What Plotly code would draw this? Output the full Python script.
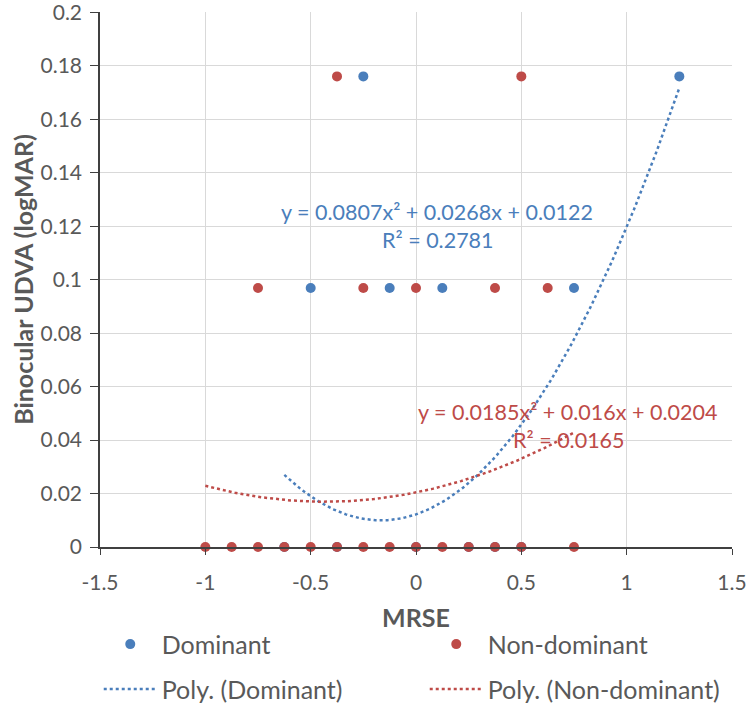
import numpy as np
import plotly.graph_objects as go

# MRSE (x) and binocular UDVA in logMAR (y)
dom_x = [-0.25, 1.25, -0.5, -0.125, 0.125, 0.75, -0.625, -0.375, 0.0, 0.25, 0.375, 0.5]
dom_y = [0.1761, 0.1761, 0.0969, 0.0969, 0.0969, 0.0969, 0, 0, 0, 0, 0, 0]

nondom_x = [-0.375, 0.5, -0.75, -0.25, 0.0, 0.375, 0.625,
            -1.0, -0.875, -0.75, -0.625, -0.5, -0.375, -0.25, -0.125,
            0.0, 0.125, 0.25, 0.375, 0.5, 0.75]
nondom_y = [0.1761, 0.1761, 0.0969, 0.0969, 0.0969, 0.0969, 0.0969,
            0, 0, 0, 0, 0, 0, 0, 0,
            0, 0, 0, 0, 0, 0]

# polynomial trendline coefficients as printed on the chart
dom_coef = [0.0807, 0.0268, 0.0122]
nondom_coef = [0.0185, 0.016, 0.0204]

x_ticks = [-1.5, -1.0, -0.5, 0.0, 0.5, 1.0, 1.5]
x_labels = ['-1.5', '-1', '-0.5', '0', '0.5', '1', '1.5']
y_ticks = [0, 0.02, 0.04, 0.06, 0.08, 0.1, 0.12, 0.14, 0.16, 0.18, 0.2]
y_labels = ['0', '0.02', '0.04', '0.06', '0.08', '0.1', '0.12', '0.14', '0.16', '0.18', '0.2']

BLUE = '#4a7ebb'
RED = '#be4b48'
GREY = '#595959'
FONT = 'Lato, Calibri, sans-serif'

fig = go.Figure()

fig.add_trace(go.Scatter(
    x=dom_x, y=dom_y, mode='markers', name='Dominant',
    marker=dict(color=BLUE, size=10), legend='legend', cliponaxis=False
))
fig.add_trace(go.Scatter(
    x=nondom_x, y=nondom_y, mode='markers', name='Non-dominant',
    marker=dict(color=RED, size=10), legend='legend', cliponaxis=False
))

dx = np.linspace(min(dom_x), max(dom_x), 200)
fig.add_trace(go.Scatter(
    x=dx, y=np.polyval(dom_coef, dx), mode='lines', name='Poly. (Dominant)',
    line=dict(color=BLUE, width=2.5, dash='dot'), legend='legend2'
))
nx = np.linspace(min(nondom_x), max(nondom_x), 200)
fig.add_trace(go.Scatter(
    x=nx, y=np.polyval(nondom_coef, nx), mode='lines', name='Poly. (Non-dominant)',
    line=dict(color=RED, width=2.5, dash='dot'), legend='legend2'
))

# equation labels
eq_font = dict(size=21.5, family=FONT)
fig.add_annotation(x=0.10, y=0.1254, text='y = 0.0807x² + 0.0268x + 0.0122',
                   showarrow=False, font=dict(color=BLUE, **eq_font))
fig.add_annotation(x=0.105, y=0.1149, text='R² = 0.2781',
                   showarrow=False, font=dict(color=BLUE, **eq_font))
fig.add_annotation(x=0.717, y=0.0506, text='y = 0.0185x² + 0.016x + 0.0204',
                   showarrow=False, font=dict(color=RED, **eq_font))
fig.add_annotation(x=0.727, y=0.0402, text='R² = 0.0165',
                   showarrow=False, font=dict(color=RED, **eq_font))

# x slightly below 0 so the two entries of each legend stay on one row
legend_style = dict(
    orientation='h', xanchor='left', yanchor='middle',
    entrywidth=258, itemwidth=53,
    font=dict(size=25, color=GREY, family=FONT),
    bgcolor='rgba(0,0,0,0)',
)

fig.update_layout(
    width=750, height=707,
    margin=dict(l=100, r=18, t=12, b=160, autoexpand=False),
    paper_bgcolor='white', plot_bgcolor='white',
    font=dict(family=FONT, color=GREY, size=21),
    legend=dict(x=-0.002, y=-0.182, **legend_style),
    legend2=dict(x=-0.002, y=-0.266, **legend_style),
    showlegend=True,
)

fig.update_xaxes(
    range=[-1.5, 1.5], tickvals=x_ticks, ticktext=x_labels,
    showgrid=True, gridcolor='#d9d9d9', gridwidth=1,
    zeroline=False, showline=True, linecolor='#404040', linewidth=1.5,
    ticks='outside', ticklen=6, tickcolor='#404040',
    ticklabelstandoff=10, automargin=False, ticklabeloverflow='allow',
    tickfont=dict(size=21, color=GREY),
    title=dict(text='<b>MRSE</b>', standoff=17, font=dict(size=25, color=GREY)),
)
fig.update_yaxes(
    range=[0, 0.2002], tickvals=y_ticks, ticktext=y_labels,
    showgrid=True, gridcolor='#d9d9d9', gridwidth=1,
    zeroline=False, showline=True, linecolor='#404040', linewidth=1.5,
    ticks='outside', ticklen=8, tickcolor='#404040',
    ticklabelstandoff=4, automargin=False, ticklabeloverflow='allow',
    tickfont=dict(size=21, color=GREY),
    title=dict(text='<b>Binocular UDVA (logMAR)</b>', standoff=0,
               font=dict(size=25, color=GREY)),
)

fig.write_html('out.html', config={'displayModeBar': False},
               post_script="document.body.style.margin='0px';")
